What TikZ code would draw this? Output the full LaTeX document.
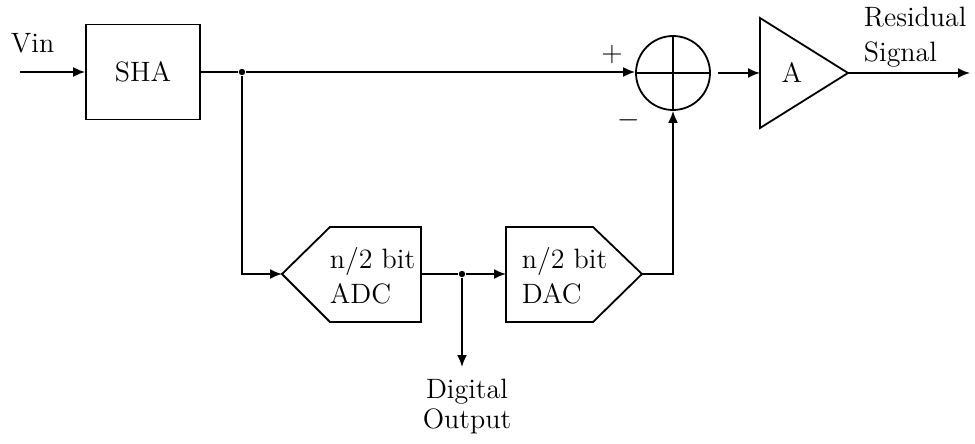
\documentclass[tikz,border=0pt]{standalone}
\usetikzlibrary{arrows.meta}
\begin{document}
\begin{tikzpicture}[x=0.5pt,y=-0.5pt, line width=0.9pt,
  arr/.style={-{Latex[length=6pt,width=5pt]}},
  lbl/.style={font=\fontsize{14}{16}\selectfont, inner sep=0pt},
  blk/.style={draw, rectangle, minimum width=57pt, minimum height=47.5pt, inner sep=0pt, font=\fontsize{14}{16}\selectfont},
  dot/.style={circle, fill, inner sep=0pt, minimum size=3.2pt}]
\useasboundingbox (0,0) rectangle (975,444);
% SHA
\node[blk] (sha) at (143,72) {SHA};
\coordinate (vin) at (20,72);
\node[lbl, anchor=base west] (vintxt) at (10,53) {Vin};
\draw[arr] (vin) -- (sha.west);
% junction and summer
\node[dot] (j1) at (242,72) {};
\node[draw, circle, minimum size=37pt, inner sep=0pt] (sum) at (673,73) {};
\draw (sum.north) -- (sum.south) (sum.west) -- (sum.east);
\draw (sha.east) -- (j1);
\draw[arr] (j1) -- (j1 -| sum.west);
\node[lbl] (plus) at (612,55) {+};
\node[lbl] (minus) at (629,120) {$-$};
% amplifier
\draw (760,18) -- (848,73) -- (760,128) -- cycle;
\coordinate (ampin) at (760,73);
\coordinate (ampout) at (848,73);
\node[lbl] (A) at (792,73) {A};
\draw[arr] ([xshift=3.5pt]sum.east) -- (ampin);
\coordinate (res) at (970,73);
\draw[arr] (ampout) -- (res);
\node[lbl, anchor=base west] (restxt) at (863,27) {Residual};
\node[lbl, anchor=base west] (sigtxt) at (863,62) {Signal};
% ADC
\draw (282,274) -- (330,227) -- (421,227) -- (421,322) -- (330,322) -- cycle;
\coordinate (adcin) at (282,274);
\coordinate (adcout) at (421,274);
\node[lbl, anchor=base west] (adct1) at (329,268) {n/2 bit};
\node[lbl, anchor=base west] (adct2) at (329,303) {ADC};
% DAC
\draw (506,227) -- (593,227) -- (642,274) -- (593,322) -- (506,322) -- cycle;
\coordinate (dacin) at (506,274);
\coordinate (dacout) at (642,274);
\node[lbl, anchor=base west] (dact1) at (521,268) {n/2 bit};
\node[lbl, anchor=base west] (dact2) at (521,303) {DAC};
% connections
\node[dot] (j2) at (462,274) {};
\draw[arr] (j1) |- (adcin);
\draw (adcout) -- (j2);
\draw[arr] (j2) -- (dacin);
\coordinate (dout) at (462,367);
\draw[arr] (j2) -- (dout);
\node[lbl, anchor=base] (dig1) at (467,398) {Digital};
\node[lbl, anchor=base] (dig2) at (467,428) {Output};
\draw[arr] (dacout) -| (sum.south);
\end{tikzpicture}
\end{document}
